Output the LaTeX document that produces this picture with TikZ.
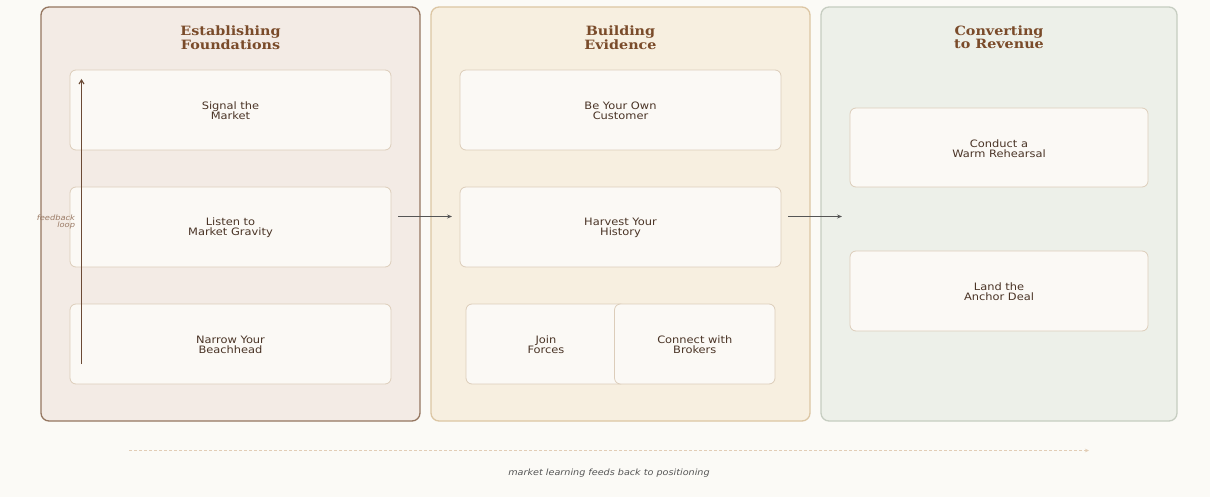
\documentclass[tikz,border=0pt]{standalone}
\usepackage{fontspec}
\setmainfont{DejaVu Sans}
\newfontfamily\titlefont{DejaVu Serif}
\usetikzlibrary{arrows.meta}
\definecolor{bgc}{HTML}{FBFAF6}
\definecolor{pAfill}{HTML}{F3EBE5}
\definecolor{pAline}{HTML}{957660}
\definecolor{pBfill}{HTML}{F7EFE0}
\definecolor{pBline}{HTML}{DCC6A3}
\definecolor{pCfill}{HTML}{EDF0E9}
\definecolor{pCline}{HTML}{C6CDC1}
\definecolor{boxfill}{HTML}{FBF9F5}
\definecolor{boxline}{HTML}{DCCDBA}
\definecolor{txt}{HTML}{4A3426}
\definecolor{ttl}{HTML}{7A4B2A}
\definecolor{fb}{HTML}{6B4A35}
\definecolor{fbtxt}{HTML}{9A7A65}
\definecolor{dash}{HTML}{E2CDB6}
\definecolor{arr}{HTML}{555555}
\tikzset{
  stretch/.style={xscale=1.12, transform shape},
  panel/.style={rounded corners=8pt, line width=1.3pt},
  stepbox/.style={draw=boxline, fill=boxfill, rounded corners=6pt, line width=0.8pt},
  lbl/.style={stretch, text=txt, font=\fontsize{10.2}{10}\selectfont, align=center},
  ttlstyle/.style={stretch, text=ttl, font=\titlefont\bfseries\fontsize{12.8}{12}\selectfont, align=center},
  flow/.style={draw=arr, line width=0.8pt, -{Stealth[length=5pt,width=4pt]}}
}
\begin{document}
\begin{tikzpicture}[x=1pt,y=-1pt]
\fill[bgc] (0,0) rectangle (1210,497);
\useasboundingbox (0,0) rectangle (1210,497);
% panels
\draw[panel, draw=pAline, fill=pAfill] (41,7) rectangle (420,421);
\draw[panel, draw=pBline, fill=pBfill] (431,7) rectangle (810,421);
\draw[panel, draw=pCline, fill=pCfill] (821,7) rectangle (1177,421);
\node[ttlstyle] (t1) at (230.5,37.5) {Establishing\\Foundations};
\node[ttlstyle] (t2) at (620.5,37.5) {Building\\Evidence};
\node[ttlstyle] (t3) at (999,37.5) {Converting\\to Revenue};
% panel 1 boxes
\draw[stepbox] (70,70) rectangle (391,150);
\node[lbl] (a1) at (230.5,111) {Signal the\\Market};
\draw[stepbox] (70,187) rectangle (391,267);
\node[lbl] (a2) at (230.5,228) {Listen to\\Market Gravity};
\draw[stepbox] (70,304) rectangle (391,384);
\node[lbl] (a3) at (230.5,345) {Narrow Your\\Beachhead};
% panel 2 boxes
\draw[stepbox] (460,70) rectangle (781,150);
\node[lbl] (b1) at (620.5,111) {Be Your Own\\Customer};
\draw[stepbox] (460,187) rectangle (781,267);
\node[lbl] (b2) at (620.5,228) {Harvest Your\\History};
\draw[stepbox] (466,304) rectangle (626,384);
\node[lbl] (b3) at (546,345) {Join\\Forces};
\draw[stepbox] (614.5,304) rectangle (775,384);
\node[lbl] (b4) at (694.8,345) {Connect with\\Brokers};
% panel 3 boxes
\draw[stepbox] (850,108) rectangle (1148,187);
\node[lbl] (c1) at (999,148.5) {Conduct a\\Warm Rehearsal};
\draw[stepbox] (850,251) rectangle (1148,331);
\node[lbl] (c2) at (999,292) {Land the\\Anchor Deal};
% flow arrows
\coordinate (f1s) at (398,216.5);
\coordinate (f1e) at (452,216.5);
\coordinate (f2s) at (788,216.5);
\coordinate (f2e) at (842,216.5);
\draw[flow] (f1s) -- (f1e);
\draw[flow] (f2s) -- (f2e);
% feedback loop
\coordinate (fbs) at (81.5,364);
\coordinate (fbe) at (81.5,79);
\draw[draw=fb, line width=1.1pt, -{Straight Barb[length=4pt,width=5pt]}] (fbs) -- (fbe);
\node[stretch, text=fbtxt, font=\itshape\fontsize{7.4}{7.5}\selectfont, align=right, anchor=east] (fbl) at (79,222) {feedback\\loop};
% bottom dashed
\coordinate (ds) at (129,450.5);
\coordinate (de) at (1089,450.5);
\draw[draw=dash, line width=0.8pt, dashed, dash pattern=on 3pt off 2pt, -{Stealth[length=4pt,width=3.5pt]}] (ds) -- (de);
\node[stretch, text=arr, font=\itshape\fontsize{8.6}{8}\selectfont] (note) at (609,473) {market learning feeds back to positioning};
\end{tikzpicture}
\end{document}
